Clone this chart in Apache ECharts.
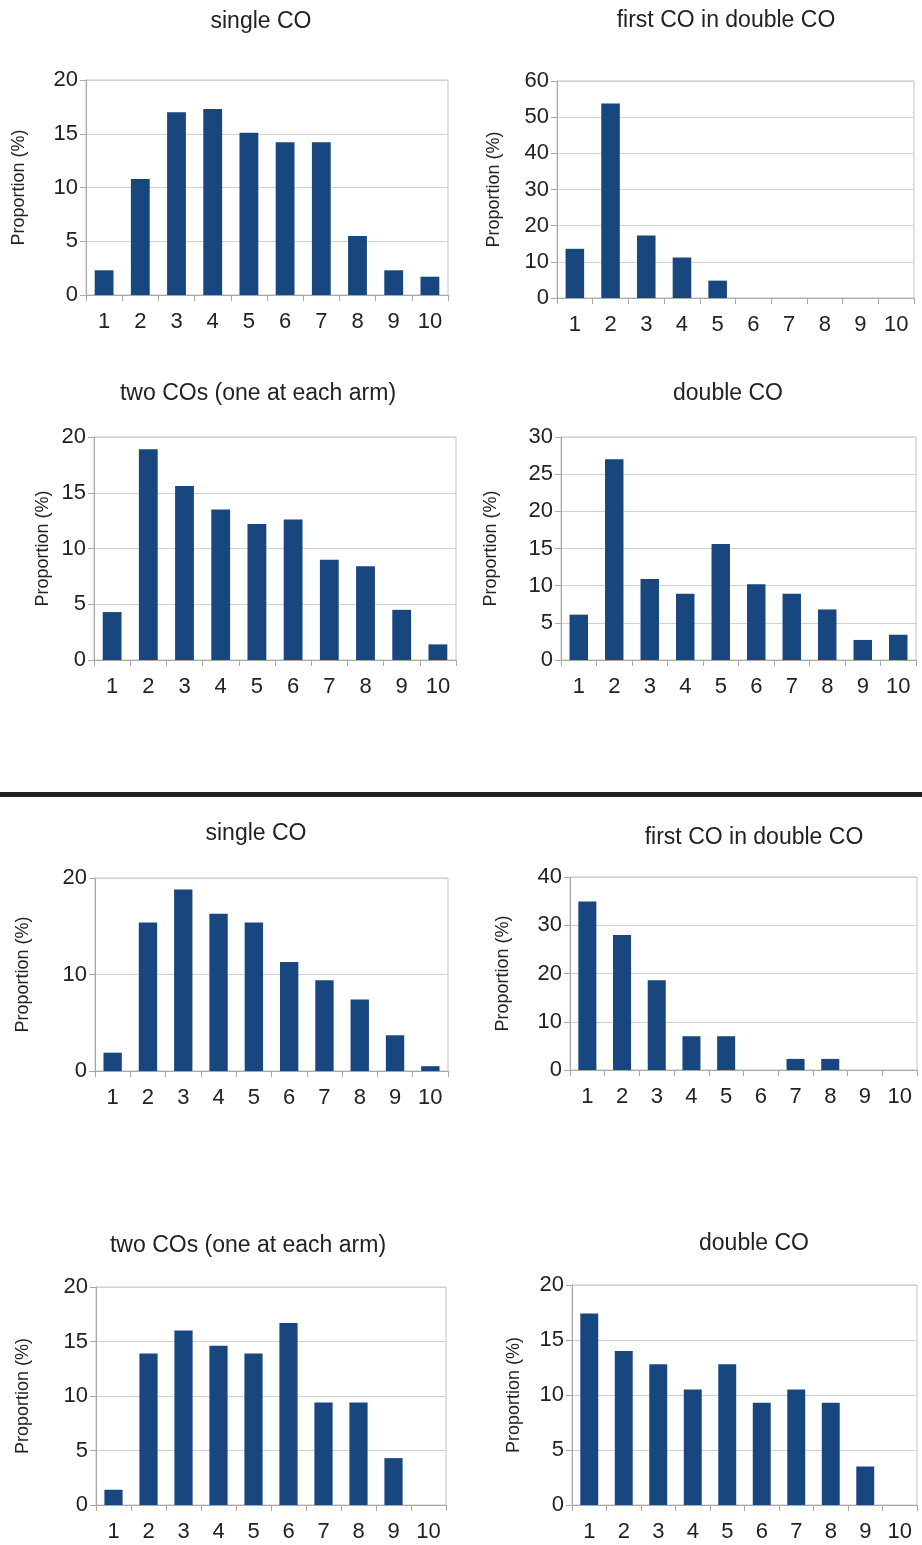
<!DOCTYPE html>
<html>
<head>
<meta charset="utf-8">
<script src="https://cdn.jsdelivr.net/npm/echarts@6/dist/echarts.min.js"></script>
<style>
html,body{margin:0;padding:0;background:#fff;}
#c{width:922px;height:1545px;}
</style>
</head>
<body>
<div id="c"></div>
<script>
// ---- data ----
const categories = ['1','2','3','4','5','6','7','8','9','10'];
const titles = ['single CO','first CO in double CO','two COs (one at each arm)','double CO',
                'single CO','first CO in double CO','two COs (one at each arm)','double CO'];
const singleCO_A        = [2.3, 10.8, 17.0, 17.3, 15.1, 14.2, 14.2, 5.5, 2.3, 1.7];
const firstCOInDouble_A = [13.6, 53.8, 17.3, 11.2, 4.8, 0, 0, 0, 0, 0];
const twoCOs_A          = [4.3, 18.9, 15.6, 13.5, 12.2, 12.6, 9.0, 8.4, 4.5, 1.4];
const doubleCO_A        = [6.1, 27.0, 10.9, 8.9, 15.6, 10.2, 8.9, 6.8, 2.7, 3.4];
const singleCO_B        = [1.9, 15.4, 18.8, 16.3, 15.4, 11.3, 9.4, 7.4, 3.7, 0.5];
const firstCOInDouble_B = [34.9, 28.0, 18.6, 7.0, 7.0, 0, 2.3, 2.3, 0, 0];
const twoCOs_B          = [1.4, 13.9, 16.0, 14.6, 13.9, 16.7, 9.4, 9.4, 4.3, 0];
const doubleCO_B        = [17.4, 14.0, 12.8, 10.5, 12.8, 9.3, 10.5, 9.3, 3.5, 0];
const seriesData = [singleCO_A, firstCOInDouble_A, twoCOs_A, doubleCO_A,
                    singleCO_B, firstCOInDouble_B, twoCOs_B, doubleCO_B];
const yMax      = [20, 60, 20, 30, 20, 40, 20, 20];
const yInterval = [5, 10, 5, 5, 10, 10, 5, 5];
const yAxisName = 'Proportion (%)';

// ---- layout ----
const grids = [
  {left: 86,  top: 80,   width: 362, height: 215},
  {left: 557, top: 81,   width: 357, height: 217},
  {left: 94,  top: 437,  width: 362, height: 223},
  {left: 561, top: 437,  width: 355, height: 223},
  {left: 95,  top: 878,  width: 353, height: 193},
  {left: 570, top: 877,  width: 347, height: 193},
  {left: 96,  top: 1287, width: 350, height: 218},
  {left: 572, top: 1285, width: 345, height: 220}
];
const nameGaps = [58, 54, 42, 61, 63, 58, 64, 49];
const titlePos = [[261, 10], [726, 9], [258, 382], [728, 382], [256, 822], [754, 826], [248, 1234], [754, 1232]];

const FONT = 'Liberation Sans, Arial, sans-serif';
const TXT = '#222222';
const BAR = '#18477f';

const option = {
  backgroundColor: '#ffffff',
  animation: false,
  title: titles.map((t, i) => ({
    text: t, left: titlePos[i][0], top: titlePos[i][1], textAlign: 'center', padding: 0,
    textStyle: {fontFamily: FONT, fontSize: 23, fontWeight: 'normal', color: TXT}
  })),
  grid: grids.map(g => Object.assign({show: true, borderColor: '#c4c4c4', borderWidth: 1, backgroundColor: 'transparent'}, g)),
  xAxis: grids.map((g, i) => ({
    type: 'category', gridIndex: i, data: categories,
    axisLine: {lineStyle: {color: '#a8a8a8', width: 1}},
    axisTick: {show: true, length: 6, lineStyle: {color: '#a8a8a8'}},
    axisLabel: {fontFamily: FONT, fontSize: 22, color: TXT, margin: 16, interval: 0}
  })),
  yAxis: grids.map((g, i) => ({
    type: 'value', gridIndex: i, min: 0, max: yMax[i], interval: yInterval[i],
    name: yAxisName, nameLocation: 'middle', nameGap: nameGaps[i],
    nameTextStyle: {fontFamily: FONT, fontSize: 18, color: TXT},
    axisLine: {show: true, lineStyle: {color: '#a8a8a8', width: 1}},
    axisTick: {show: true, length: 6, lineStyle: {color: '#a8a8a8'}},
    splitLine: {show: true, lineStyle: {color: '#d2d2d2', width: 1}},
    axisLabel: {fontFamily: FONT, fontSize: 22, color: TXT, margin: 8}
  })),
  series: seriesData.map((d, i) => ({
    type: 'bar', xAxisIndex: i, yAxisIndex: i, data: d,
    barWidth: '52%', itemStyle: {color: BAR}
  })),
  graphic: [{
    type: 'rect', left: 0, top: 792, shape: {x: 0, y: 0, width: 922, height: 5},
    style: {fill: '#222222'}
  }]
};

const chart = echarts.init(document.getElementById('c'), null, {renderer: 'canvas'});
chart.setOption(option);
</script>
</body>
</html>
